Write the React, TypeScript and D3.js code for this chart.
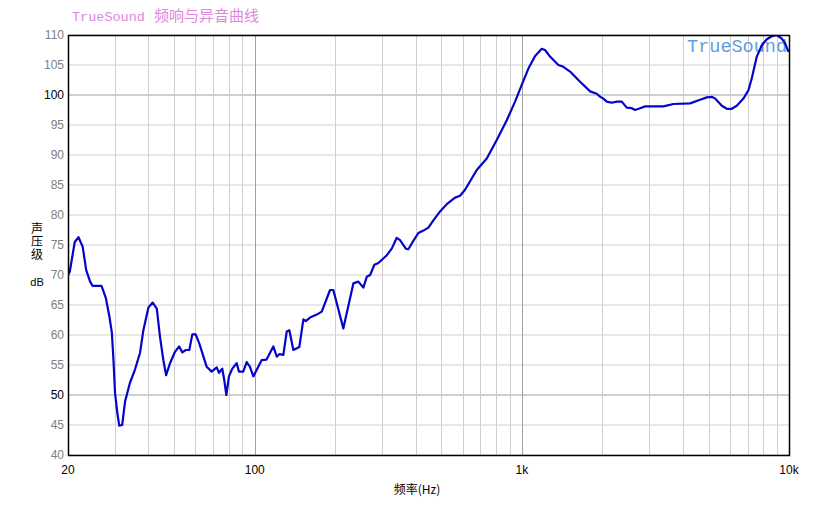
import * as d3 from 'd3';

// --- Data ---
const freqs = [
  20, 20.3, 21.2, 21.9, 22.7, 23.4, 24.2, 24.7, 26.7, 27.7, 28.6, 29.2, 29.6, 30.0, 30.6, 31.1,
  31.9, 32.7, 34.1, 35.6, 37.2, 38.3, 40.0, 41.5, 43.0, 44.2, 45.5, 46.6, 48.2, 50.3, 52.1,
  53.6, 55.2, 56.9, 58.4, 60.1, 62.0, 66.1, 69.0, 72.1, 73.5, 75.6, 76.9, 78.3, 80.1, 82.4,
  85.6, 87.3, 90.6, 93.3, 96.0, 98.8, 106.1, 110.7, 117.4, 120.9, 123.6, 128.0, 131.8, 134.8,
  139.5, 146.9, 152.1, 155.2, 161.1, 170.7, 178.2, 191.4, 196.9, 214.6, 234.0, 244.3, 255.1,
  262.7, 270.3, 280.5, 290.3, 312.2, 325.8, 340.2, 350.0, 367.7, 376.0, 392.5, 409.8, 427.8,
  446.7, 466.4, 494.0, 523.5, 562.2, 586.9, 612.8, 677.9, 739.0, 805.4, 878.0, 943.0, 999,
  1058, 1121, 1187, 1221, 1275, 1370, 1430, 1515, 1652, 1801, 1907, 1963, 2019, 2079, 2171,
  2267, 2366, 2470, 2579, 2654, 2771, 2893, 3387, 3693, 4264, 4648, 4924, 5141, 5291, 5604,
  5852, 6107, 6375, 6750, 7048, 7256, 7576, 7910, 8258, 8622, 9002, 9398, 9670, 9950,
];
const spl = [
  70.0, 70.5, 75.5, 76.3, 74.7, 70.8, 68.9, 68.2, 68.2, 66.2, 63.0, 60.3, 55.8, 50.3, 47.0, 44.9,
  45.0, 48.9, 52.0, 54.2, 57.0, 60.8, 64.6, 65.4, 64.4, 59.7, 55.8, 53.3, 55.3, 57.2, 58.1,
  57.1, 57.5, 57.5, 60.1, 60.1, 58.6, 54.7, 53.9, 54.6, 53.7, 54.4, 52.5, 50.0, 53.1, 54.4,
  55.3, 53.9, 53.9, 55.5, 54.7, 53.1, 55.8, 55.9, 58.1, 56.4, 56.8, 56.7, 60.6, 60.8,
  57.5, 58.0, 62.6, 62.3, 62.9, 63.4, 63.9, 67.5, 67.5, 61.1, 68.6, 68.9, 67.9,
  69.7, 70.0, 71.7, 72.0, 73.3, 74.4, 76.2, 75.8, 74.4, 74.3, 75.7, 77.0, 77.4,
  77.9, 79.1, 80.6, 81.8, 82.9, 83.2, 84.2, 87.5, 89.4, 92.5, 95.8, 98.9, 101.7,
  104.4, 106.5, 107.7, 107.5, 106.4, 105.0, 104.7, 103.9, 102.2, 100.6, 100.2, 99.7, 99.4, 98.9, 98.7,
  98.9, 98.9, 97.9, 97.8, 97.5, 97.8, 98.1, 98.1, 98.5, 98.6, 99.2, 99.6, 99.7, 99.4, 98.2,
  97.7, 97.7, 98.2, 99.4, 100.8, 102.8, 106.4, 108.3, 109.3, 109.8, 110.0, 109.4, 108.6, 107.2,
];
const yTicks = [40, 45, 50, 55, 60, 65, 70, 75, 80, 85, 90, 95, 100, 105, 110];
const xGrid = [
  30, 40, 50, 60, 70, 80, 90, 100, 200, 300, 400, 500, 600, 700, 800, 900, 1000,
  2000, 3000, 4000, 5000, 6000, 7000, 8000, 9000,
];
const xLabels = [
  { v: 20, t: '20' },
  { v: 100, t: '100' },
  { v: 1000, t: '1k' },
  { v: 10000, t: '10k' },
];

const W = 815;
const H = 510;
const left = 68;
const right = 789;
const top = 35;
const bottom = 455;

export default function App() {
  const x = d3.scaleLog().domain([20, 10000]).range([left, right]);
  const y = d3.scaleLinear().domain([40, 110]).range([bottom, top]);

  const pts = freqs.map((f, i) => [f, spl[i]] as [number, number]);
  const line = d3
    .line<[number, number]>()
    .x((d) => x(d[0]))
    .y((d) => y(d[1]))
    .curve(d3.curveLinear);

  const isMajorY = (v: number) => v % 50 === 0;
  const isMajorX = (v: number) => v === 100 || v === 1000;

  return (
    <svg
      width={W}
      height={H}
      style={{ position: 'absolute', left: 0, top: 0, background: '#fff' }}
      fontFamily="'Liberation Sans', Arial, sans-serif"
    >
      <defs>
        <clipPath id="plot">
          <rect x={left} y={top} width={right - left} height={bottom - top} />
        </clipPath>
      </defs>

      {/* title */}
      <text x={72} y={21} fill="#dd88dd" fontSize={13.5}>
        <tspan fontFamily="'Liberation Mono', 'DejaVu Sans Mono', monospace">TrueSound</tspan>
        <tspan dx={9} fontFamily="'Noto Sans CJK SC', sans-serif" fontSize={15}>
          频响与异音曲线
        </tspan>
      </text>

      {/* horizontal grid */}
      {yTicks.map((v) => (
        <line
          key={'h' + v}
          x1={left}
          x2={right}
          y1={y(v)}
          y2={y(v)}
          stroke={isMajorY(v) ? '#a0a0a0' : '#cfcfcf'}
          strokeWidth={1}
        />
      ))}
      {/* vertical grid */}
      {xGrid.map((v) => (
        <line
          key={'v' + v}
          x1={Math.round(x(v)) + 0.5}
          x2={Math.round(x(v)) + 0.5}
          y1={top}
          y2={bottom}
          stroke={isMajorX(v) ? '#a0a0a0' : '#cfcfcf'}
          strokeWidth={1}
        />
      ))}

      {/* watermark */}
      <text
        x={787}
        y={52}
        textAnchor="end"
        fill="#5f9ddf"
        fontSize={18.5}
        fontFamily="'Liberation Mono', 'DejaVu Sans Mono', monospace"
      >
        TrueSound
      </text>

      {/* curve */}
      <path
        d={line(pts) ?? ''}
        fill="none"
        stroke="#0505c8"
        strokeWidth={2.2}
        strokeLinejoin="round"
        clipPath="url(#plot)"
      />

      {/* frame */}
      <rect
        x={left + 0.5}
        y={top + 0.5}
        width={right - left}
        height={bottom - top}
        fill="none"
        stroke="#000"
        strokeWidth={1.5}
      />

      {/* y tick labels */}
      {yTicks.map((v) => (
        <text
          key={'yl' + v}
          x={64}
          y={y(v) + 4}
          textAnchor="end"
          fontSize={12}
          fill={isMajorY(v) ? '#000' : '#808080'}
        >
          {v}
        </text>
      ))}

      {/* x tick labels */}
      {xLabels.map((d) => (
        <text key={'xl' + d.v} x={x(d.v)} y={474} textAnchor="middle" fontSize={12} fill="#000">
          {d.t}
        </text>
      ))}

      {/* axis titles */}
      <g fontFamily="'Noto Sans CJK SC', sans-serif" fontSize={12} fill="#000" textAnchor="middle">
        <text
          x={37}
          y={242}
          style={{ writingMode: 'vertical-rl', letterSpacing: '1px' }}
        >
          声压级
        </text>
        <text x={37} y={286} fontFamily="'Liberation Sans', Arial, sans-serif" fontSize={11}>
          dB
        </text>
        <text x={417} y={494}>频率(Hz)</text>
      </g>
    </svg>
  );
}
